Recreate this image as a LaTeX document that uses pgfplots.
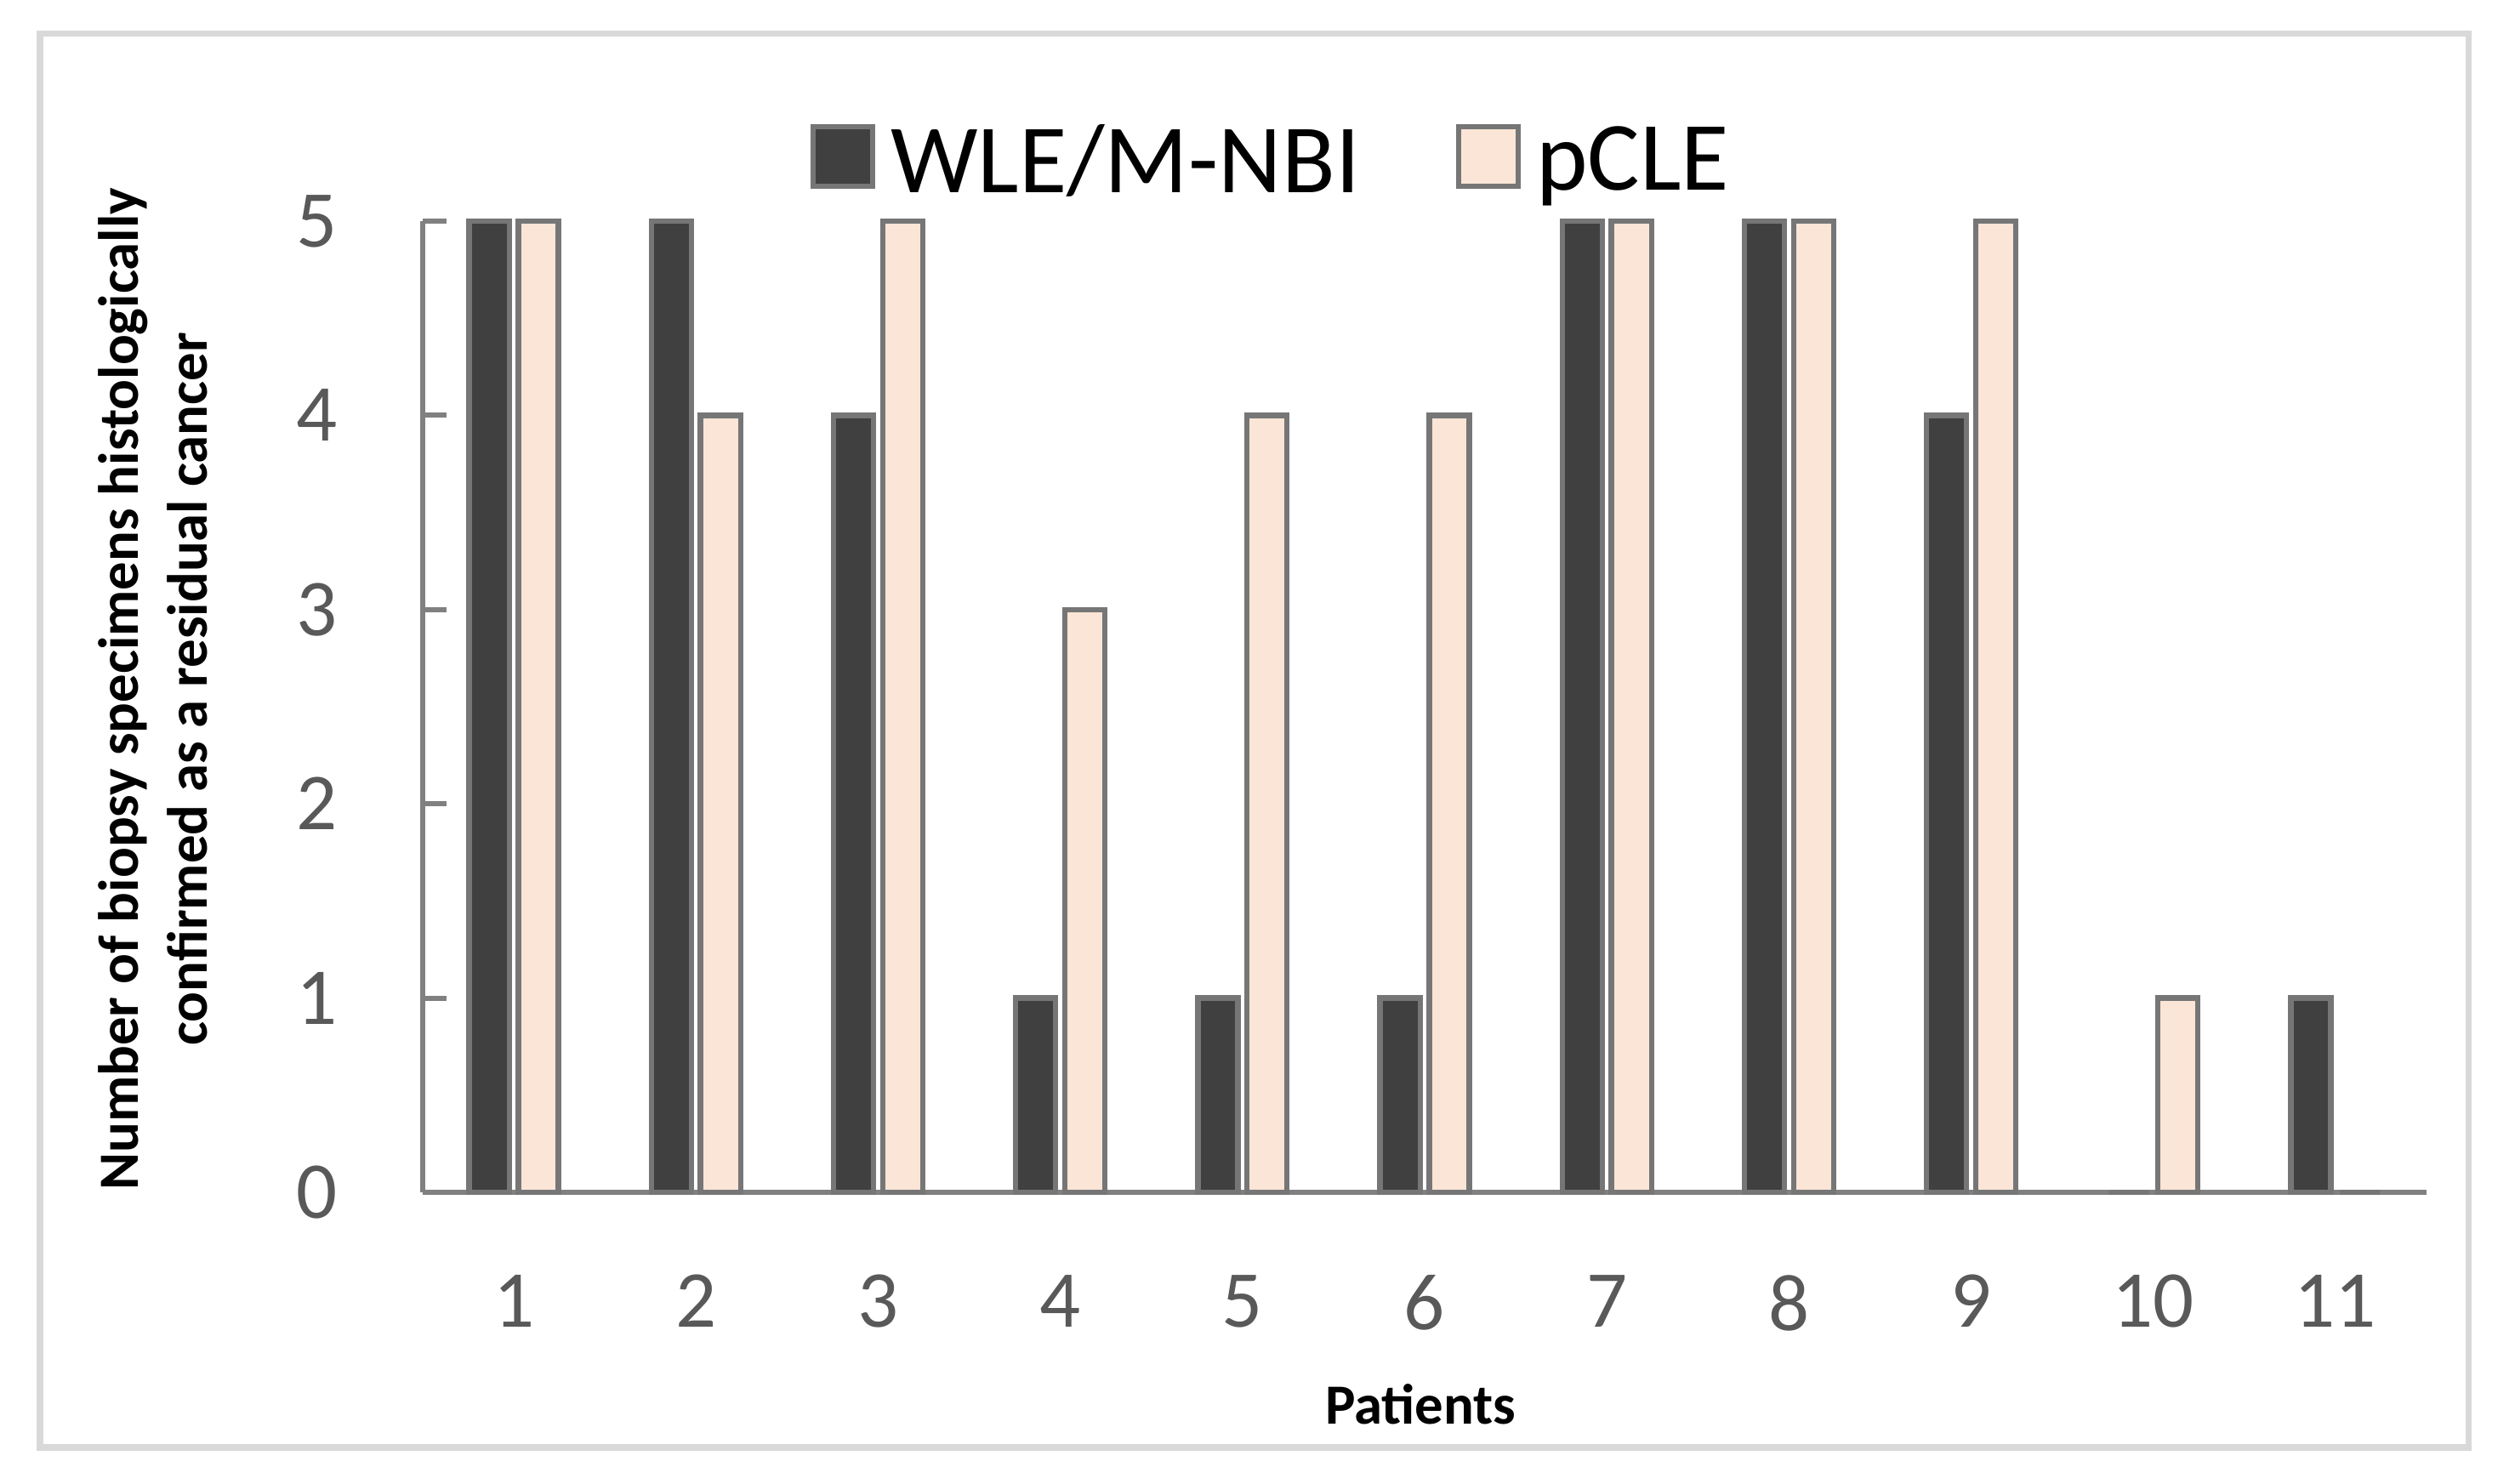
\documentclass[border=0pt]{standalone}
\usepackage{pgfplots}
\usepackage{pgfplotstable}
\pgfplotsset{compat=1.18}
\usepackage{fontspec}
\setmainfont{Carlito}
\definecolor{darkbar}{HTML}{404040}
\definecolor{lightbar}{HTML}{FBE5D6}
\definecolor{barline}{HTML}{767676}
\definecolor{axisgray}{HTML}{808080}
\definecolor{ticktext}{HTML}{595959}
\definecolor{framegray}{HTML}{D9D9D9}

\pgfplotstableread{
pat wle pcle
1 5 5
2 5 4
3 4 5
4 1 3
5 1 4
6 1 4
7 5 5
8 5 5
9 4 5
10 0 1
11 1 0
}\datatable

\begin{document}
\begin{tikzpicture}
\useasboundingbox (0,0) rectangle (14.785cm,8.72cm);
\fill[white] (0,0) rectangle (14.785cm,8.72cm);
\draw[framegray, line width=1pt] (0.235cm,0.21cm) rectangle (14.51cm,8.52cm);
\begin{axis}[
  at={(2.485cm,1.71cm)}, anchor=south west,
  scale only axis, width=11.78cm, height=5.71cm,
  xmin=0.5, xmax=11.5, ymin=0, ymax=5,
  axis lines=left,
  axis line style={-, draw=axisgray, line width=0.85pt},
  clip=false,
  ybar, bar width=0.22,
  xtick={1,...,11}, ytick={0,...,5},
  x tick style={draw=none},
  y tick style={draw=axisgray, line width=0.85pt},
  tick align=inside, major tick length=0.14cm,
  /pgf/number format/assume math mode=true,
  tick label style={font=\fontsize{13.5}{16}\selectfont, text=ticktext},
  yticklabel style={anchor=east, inner sep=0pt, xshift=-0.495cm},
  xticklabel style={anchor=north, inner sep=0pt, yshift=-0.48cm},
  xlabel={Patients},
  xlabel style={at={(rel axis cs:0.498,-0.239)}, anchor=base, inner sep=0pt, font=\bfseries\fontsize{9.5}{11.5}\selectfont},
  ylabel={Number of biopsy specimens histologically\\confirmed as a residual cancer},
  ylabel style={at={(rel axis cs:-0.1345,0.518)}, anchor=center, align=center, inner sep=0pt, font=\bfseries\fontsize{9.5}{11.5}\selectfont},
  legend columns=2,
  legend style={at={(rel axis cs:0.1935,1.0201)}, anchor=south west, draw=none, fill=none,
    inner sep=0pt, outer sep=0pt, font=\fontsize{16.4}{19}\selectfont,
    nodes={inner sep=0pt},
    /tikz/every odd column/.append style={column sep=0.09cm},
    /tikz/every even column/.append style={column sep=0.565cm}},
  legend image code/.code={\draw[#1] (0cm,-0.135cm) rectangle (0.35cm,0.215cm);},
]
\addplot[fill=darkbar, draw=barline, line width=0.9pt, bar shift=-0.135] table[x=pat, y=wle] {\datatable};
\addplot[fill=lightbar, draw=barline, line width=0.9pt, bar shift=0.135] table[x=pat, y=pcle] {\datatable};
\legend{WLE/M-NBI, pCLE}
\end{axis}
\end{tikzpicture}
\end{document}
